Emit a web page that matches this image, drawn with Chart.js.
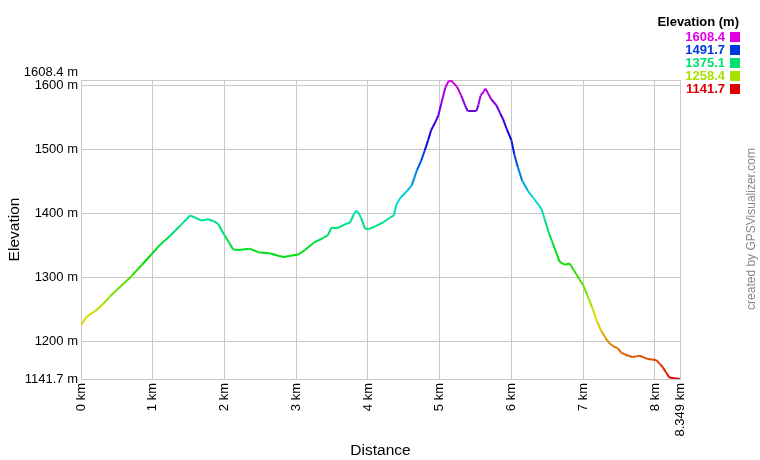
<!DOCTYPE html>
<html>
<head>
<meta charset="utf-8">
<title>Elevation profile</title>
<script src="https://cdn.jsdelivr.net/npm/chart.js@4/dist/chart.umd.min.js"></script>
<style>
  body { margin: 0; background: #fff; }
  #profile { display: block; }
</style>
</head>
<body>
<canvas id="profile" width="760" height="460"></canvas>
<script>
// ---------- DATA ----------
const distanceKm = [
  0.00, 0.08, 0.20, 0.31, 0.40, 0.50, 0.60, 0.71, 0.85, 0.98,
  1.10, 1.25, 1.40, 1.52, 1.60, 1.68, 1.77, 1.85, 1.91, 2.00,
  2.06, 2.12, 2.20, 2.35, 2.49, 2.63, 2.75, 2.82, 2.92, 3.03,
  3.12, 3.24, 3.36, 3.44, 3.49, 3.55, 3.61, 3.68, 3.75, 3.80,
  3.83, 3.86, 3.90, 3.96, 4.02, 4.10, 4.21, 4.30, 4.36, 4.40,
  4.45, 4.55, 4.61, 4.68, 4.74, 4.79, 4.84, 4.88, 4.94, 4.98,
  5.02, 5.08, 5.12, 5.15, 5.19, 5.24, 5.30, 5.36, 5.39, 5.51,
  5.54, 5.57, 5.61, 5.64, 5.67, 5.72, 5.79, 5.84, 5.88, 5.94,
  6.00, 6.04, 6.09, 6.15, 6.23, 6.30, 6.38, 6.42, 6.46, 6.52,
  6.56, 6.62, 6.67, 6.74, 6.81, 6.86, 6.90, 6.95, 7.00, 7.06,
  7.13, 7.19, 7.25, 7.31, 7.37, 7.43, 7.48, 7.53, 7.58, 7.63,
  7.69, 7.74, 7.79, 7.85, 7.90, 7.96, 8.02, 8.07, 8.11, 8.16,
  8.20, 8.27, 8.349
];
const elevationM = [
  1226, 1239, 1248, 1259, 1270, 1281, 1291, 1303, 1320, 1336,
  1351, 1366, 1383, 1397, 1393, 1389, 1391, 1388, 1384, 1366,
  1355, 1344, 1343, 1345, 1339, 1338, 1334, 1332, 1334, 1336,
  1343, 1354, 1361, 1366, 1378, 1377, 1379, 1383, 1386, 1398,
  1404, 1403, 1394, 1376, 1376, 1380, 1386, 1393, 1397, 1415,
  1424, 1436, 1444, 1467, 1482, 1498, 1515, 1530, 1543, 1553,
  1571, 1597, 1606, 1608.4, 1604, 1598, 1584, 1567, 1560, 1560,
  1570, 1584, 1590, 1595, 1588, 1578, 1569, 1557, 1548, 1530,
  1514, 1492, 1472, 1451, 1435, 1425, 1413, 1407, 1392, 1370,
  1358, 1340, 1325, 1320, 1322, 1313, 1306, 1297, 1288, 1272,
  1252, 1232, 1217, 1206, 1197, 1192, 1190, 1183, 1180, 1178,
  1176, 1177, 1178, 1175, 1173, 1172, 1171, 1165, 1160, 1151,
  1144, 1143, 1141.7
];
const xTickValues = [0, 1, 2, 3, 4, 5, 6, 7, 8, 8.349];
const yTickValues = [1141.7, 1200, 1300, 1400, 1500, 1600, 1608.4];
const legendTitle = "Elevation (m)";
const legendValues = [1608.4, 1491.7, 1375.1, 1258.4, 1141.7];
const minElev = 1141.7, maxElev = 1608.4;

// colour by elevation: red (low) -> magenta (high)
function elevColor(v) {
  const t = Math.max(0, Math.min(1, (v - minElev) / (maxElev - minElev)));
  return `hsl(${Math.round(300 * t)}, 100%, 44%)`;
}

const points = distanceKm.map((d, i) => ({ x: d, y: elevationM[i] }));
const FONT = "'Liberation Sans', Arial, sans-serif";
const gridColor = "#c8c8c8";

// legend box top-right + credit text on the right edge
const extrasPlugin = {
  id: "extras",
  afterDraw(chart) {
    const ctx = chart.ctx;
    ctx.save();
    ctx.font = `bold 13px ${FONT}`;
    ctx.textAlign = "right";
    ctx.textBaseline = "middle";
    ctx.fillStyle = "#000";
    ctx.fillText(legendTitle, 739, 22);
    legendValues.forEach((v, i) => {
      const y = 37 + i * 13;
      ctx.fillStyle = elevColor(v);
      ctx.fillText(v.toFixed(1), 725, y);
      ctx.fillRect(730, y - 5, 10, 10);
    });
    // credit
    ctx.translate(752, 229);
    ctx.rotate(-Math.PI / 2);
    ctx.font = `12px ${FONT}`;
    ctx.textAlign = "center";
    ctx.fillStyle = "#888";
    ctx.fillText("created by GPSVisualizer.com", 0, 0);
    ctx.restore();
  }
};

new Chart(document.getElementById("profile"), {
  type: "line",
  data: {
    datasets: [{
      data: points,
      borderWidth: 2,
      pointRadius: 0,
      tension: 0,
      fill: false,
      borderColor: elevColor(1375),
      segment: {
        borderColor: ctx => elevColor((ctx.p0.parsed.y + ctx.p1.parsed.y) / 2)
      }
    }]
  },
  options: {
    responsive: false,
    animation: false,
    layout: { padding: { left: 0, top: 80, right: 80, bottom: 0 } },
    plugins: { legend: { display: false }, tooltip: { enabled: false } },
    scales: {
      x: {
        type: "linear",
        min: 0, max: 8.349,
        afterBuildTicks: s => { s.ticks = xTickValues.map(v => ({ value: v })); },
        afterFit: s => { s.height = 81; },
        grid: { color: gridColor, drawTicks: false },
        border: { color: gridColor },
        ticks: {
          autoSkip: false,
          minRotation: 90, maxRotation: 90,
          padding: 4,
          color: "#000",
          font: { family: FONT, size: 13 },
          callback: v => v + " km"
        },
        title: {
          display: true, text: "Distance", color: "#000",
          font: { family: FONT, size: 15.5 },
          padding: { top: 0, bottom: 0 }
        }
      },
      y: {
        min: minElev, max: maxElev,
        afterBuildTicks: s => { s.ticks = yTickValues.map(v => ({ value: v })); },
        afterFit: s => { s.width = 81; },
        grid: { color: gridColor, drawTicks: false },
        border: { color: gridColor },
        ticks: {
          autoSkip: false,
          padding: 3,
          color: "#000",
          font: { family: FONT, size: 13 },
          // top label sits a bit higher so it doesn't run into "1600 m"
          callback: v => v === maxElev ? [v + " m", ""] : v + " m"
        },
        title: {
          display: true, text: "Elevation", color: "#000",
          font: { family: FONT, size: 15.5 },
          padding: { top: 5, bottom: 0 }
        }
      }
    }
  },
  plugins: [extrasPlugin]
});
</script>
</body>
</html>
